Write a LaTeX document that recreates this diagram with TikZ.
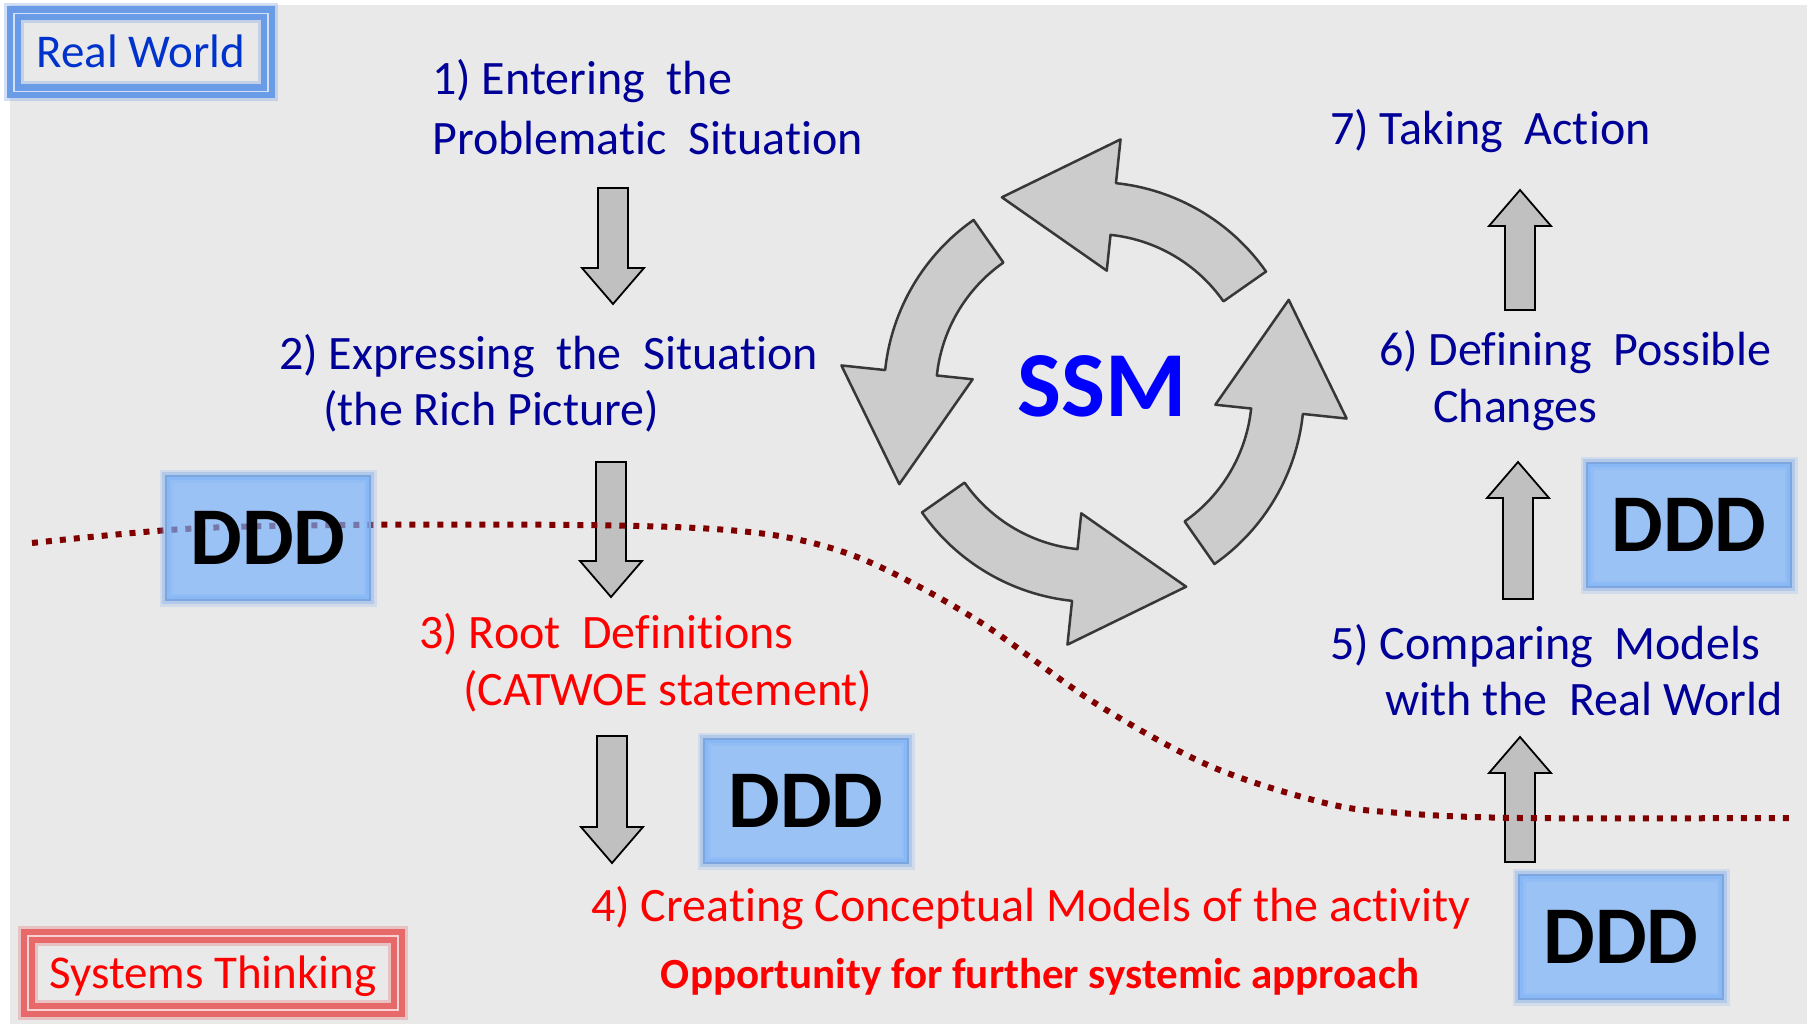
\documentclass[tikz,border=0pt]{standalone}
\usepackage{fontspec}
\setmainfont{Carlito}[Ligatures=NoCommon]
\usetikzlibrary{calc}

\definecolor{bg}{RGB}{233,233,233}
\definecolor{stepblue}{RGB}{0,0,153}
\definecolor{rwblue}{RGB}{0,51,204}
\definecolor{ssmblue}{RGB}{0,0,255}
\definecolor{stepred}{RGB}{255,0,0}
\definecolor{dddfill}{RGB}{116,176,251}
\definecolor{dddedge}{RGB}{125,165,222}
\definecolor{dddglow}{RGB}{110,160,235}
\definecolor{boundary}{RGB}{128,0,0}
\definecolor{cyclefill}{RGB}{204,204,204}
\definecolor{cycleedge}{RGB}{55,55,55}
\definecolor{arrowfill}{RGB}{192,192,192}
\definecolor{rwglow}{RGB}{105,155,230}
\definecolor{stglow}{RGB}{232,105,105}

\tikzset{
  steptext/.style={anchor=base west, inner sep=0pt, font=\fontsize{48}{57}\selectfont},
  bluestep/.style={steptext, text=stepblue},
  redstep/.style={steptext, text=stepred},
  dddbox/.style={
    preaction={draw=dddglow, line width=13pt, draw opacity=0.18},
    preaction={draw=dddglow, line width=8pt, draw opacity=0.3},
    draw=dddedge, line width=1.5pt, fill=dddfill, fill opacity=0.67, text opacity=1,
    minimum width=204pt, minimum height=124pt, inner sep=0pt,
    text height=52pt, text depth=0pt,
    font=\fontsize{82}{82}\selectfont\bfseries, text=black},
  glowframe/.style={
    preaction={draw=#1, line width=20pt, draw opacity=0.3, rounded corners=6pt},
    preaction={draw=#1, line width=14pt, rounded corners=4pt},
    postaction={draw=white!70!#1, line width=1.3pt},
    inner sep=0pt, text height=30pt, text depth=0pt,
    font=\fontsize{47}{57}\selectfont},
  blockarrow/.style={fill=arrowfill, draw=black, line width=1.8pt, line join=miter},
  cyclearrow/.style={fill=cyclefill, draw=cycleedge, line width=2.5pt, line join=round},
  boundaryline/.style={draw=boundary, line width=6pt, dash pattern=on 6pt off 8pt},
}

% straight block arrow from tail coordinate #1 to tip coordinate #2
\newcommand\blockarrow[2]{%
  \coordinate (#1-hb) at ($(#2)!36pt!(#1)$);
  \draw[blockarrow]
    ($(#1)!15pt!90:(#2)$) -- ($(#1-hb)!15pt!-90:(#1)$) -- ($(#1-hb)!31pt!-90:(#1)$)
    -- (#2)
    -- ($(#1-hb)!31pt!90:(#1)$) -- ($(#1-hb)!15pt!90:(#1)$) -- ($(#1)!15pt!-90:(#2)$) -- cycle;
}

\begin{document}
\begin{tikzpicture}[x=1pt, y=-1pt]
  \useasboundingbox (0,0) rectangle (1807,1024);
  \fill[white] (0,0) rectangle (1807,1024);
  \fill[bg] (10,5) rectangle (1807,1024);

  % domain labels
  \node[glowframe=rwglow, text=rwblue, minimum width=254pt, minimum height=78pt] (rw) at (141,52.5) {Real World};
  \node[glowframe=stglow, text=stepred, minimum width=370pt, minimum height=74pt] (st) at (213,973) {Systems Thinking};

  % the seven stages
  \node[bluestep] (s1a) at (432,95) {1) Entering~~the};
  \node[bluestep] (s1b) at (432,155) {Problematic~~Situation};
  \node[bluestep] (s2a) at (279,369) {2) Expressing~~the~~Situation};
  \node[bluestep] (s2b) at (323,425) {(the Rich Picture)};
  \node[redstep] (s3a) at (419,648) {3) Root~~Definitions};
  \node[redstep] (s3b) at (463,705) {(CATWOE statement)};
  \node[redstep] (s4) at (591,921) {4) Creating Conceptual Models of the activity};
  \node[anchor=base, inner sep=0pt, text=stepred, font=\fontsize{43}{50}\selectfont\bfseries] (opp) at (1040,988) {Opportunity for further systemic approach};
  \node[bluestep] (s5a) at (1330,659) {5) Comparing~~Models};
  \node[bluestep] (s5b) at (1385,715) {with the~~Real World};
  \node[bluestep] (s6a) at (1379,365) {6) Defining~~Possible};
  \node[bluestep] (s6b) at (1433,422) {Changes};
  \node[bluestep] (s7) at (1330,145) {7) Taking~~Action};

  % arrows between stages
  \coordinate (a12) at (613,188);  \coordinate (a12t) at (613,304);
  \coordinate (a23) at (611,462);  \coordinate (a23t) at (611,597);
  \coordinate (a34) at (612,736);  \coordinate (a34t) at (612,863);
  \coordinate (a45) at (1520,862); \coordinate (a45t) at (1520,737);
  \coordinate (a56) at (1518,599); \coordinate (a56t) at (1518,462);
  \coordinate (a67) at (1520,310); \coordinate (a67t) at (1520,190);
  \blockarrow{a12}{a12t}
  \blockarrow{a23}{a23t}
  \blockarrow{a34}{a34t}
  \blockarrow{a45}{a45t}
  \blockarrow{a56}{a56t}
  \blockarrow{a67}{a67t}

  % SSM cycle of four curved arrows
  \coordinate (C) at (1094,392);
  \foreach \r in {0,90,180,270}{
    \pgfmathsetmacro\ta{35+\r}
    \pgfmathsetmacro\tb{84+\r}
    \pgfmathsetmacro\tc{174+\r}
    \draw[cyclearrow]
      ($(C)+(\ta:158pt)$) -- ($(C)+(\ta:210pt)$)
      arc[start angle=\ta, end angle=\tb, radius=210pt]
      -- ($(C)+(\tb:254pt)$)
      -- ($(C)+(\tb:184pt)+(\tc:112pt)$)
      -- ($(C)+(\tb:122pt)$)
      -- ($(C)+(\tb:158pt)$)
      arc[start angle=\tb, end angle=\ta, radius=158pt]
      -- cycle;
  }
  \node[inner sep=0pt, text=ssmblue, text height=59pt, text depth=0pt,
        font=\fontsize{93}{93}\selectfont\bfseries] (ssm) at (1102,387) {SSM};

  % boundary between real world and systems thinking
  \draw[boundaryline] plot[smooth, tension=0.55] coordinates {
    (32,543) (184,529) (346,525) (576,525) (714,529) (800,540) (876,565)
    (980,622) (1095,703) (1210,766) (1325,803) (1400,813) (1520,818) (1792,818)};

  % DDD markers
  \node[dddbox] (dddL) at (268,538) {DDD};
  \node[dddbox] (dddM) at (806,801) {DDD};
  \node[dddbox] (dddR) at (1689,525) {DDD};
  \node[dddbox] (dddB) at (1621,937) {DDD};
\end{tikzpicture}
\end{document}
